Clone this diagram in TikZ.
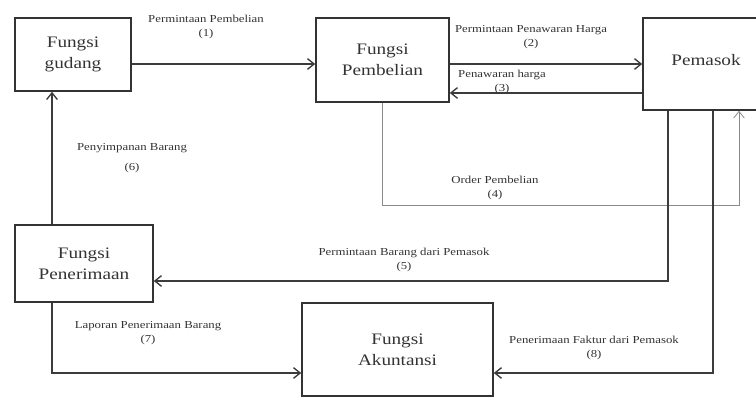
\documentclass[tikz,border=0pt]{standalone}
\usepackage{fontspec}
\setmainfont[FakeStretch=1.2]{Liberation Serif}
\usepackage{xcolor}
\usepackage{tikz}
\usetikzlibrary{arrows.meta, positioning}
\definecolor{tinta}{HTML}{333333}
\definecolor{garisgelap}{HTML}{3C3C3C}
\definecolor{abu}{HTML}{8A8A8A}
\tikzset{
  kotak/.style={rectangle, draw=tinta, line width=1.2pt, fill=white,
    text=tinta, font=\fontsize{12}{15.5}\selectfont, align=center, inner sep=0pt},
  panah/.style={-{Straight Barb[length=5pt, width=8pt]}, line width=1pt, color=garisgelap},
  panahtipis/.style={panah, line width=0.6pt, color=abu},
  keterangan/.style={font=\fontsize{8}{10.5}\selectfont, text=tinta, align=center, inner sep=0pt}
}

\begin{document}
\begin{tikzpicture}[x=0.75pt, y=-0.75pt]
    \useasboundingbox (0,0) rectangle (756,398);

    \node[kotak, minimum width=87pt, minimum height=54.75pt] (gudang) at (73,54.5) {Fungsi\\gudang};
    \node[kotak, minimum width=99.75pt, minimum height=63pt] (pembelian) at (382.5,60) {Fungsi\\Pembelian};
    \node[kotak, minimum width=94.5pt, minimum height=69pt] (pemasok) at (706,64) {\raisebox{6pt}{Pemasok}};
    \node[kotak, minimum width=103.5pt, minimum height=57.75pt] (penerimaan) at (84,263.5) {Fungsi\\Penerimaan};
    \node[kotak, minimum width=143.25pt, minimum height=69.75pt] (akuntansi) at (397.5,349.5) {Fungsi\\Akuntansi};

    % alur permintaan dan penawaran
    \draw[panah] (gudang.east |- 0,64) -- (pembelian.west |- 0,64);
    \draw[panah] (pembelian.east |- 0,64) -- (pemasok.west |- 0,64);
    \draw[panah] (pemasok.west |- 0,93) -- (pembelian.east |- 0,93);
    \draw[panahtipis] (pembelian.south) |- (739,205) -- (pemasok.south -| 739,0);

    % alur barang dan dokumen
    \draw[panah] (pemasok.south -| 668,0) |- (penerimaan.east |- 0,281);
    \draw[panah] (penerimaan.north -| 52,0) -- (gudang.south -| 52,0);
    \draw[panah] (penerimaan.south -| 52,0) |- (akuntansi.west |- 0,373);
    \draw[panah] (pemasok.south -| 713,0) |- (akuntansi.east |- 0,373);

    \node[keterangan] (k1) at (206,27) {Permintaan Pembelian\\(1)};
    \node[keterangan] (k2) at (531,37) {Permintaan Penawaran Harga\\(2)};
    \node[keterangan] (k3) at (502,82) {Penawaran harga\\(3)};
    \node[keterangan] (k4) at (495,188) {Order Pembelian\\(4)};
    \node[keterangan] (k5) at (404,260) {Permintaan Barang dari Pemasok\\(5)};
    \node[keterangan] (k6) at (132,158) {Penyimpanan Barang\\[5pt](6)};
    \node[keterangan] (k7) at (148,333) {Laporan Penerimaan Barang\\(7)};
    \node[keterangan] (k8) at (594,348) {Penerimaan Faktur dari Pemasok\\(8)};
  \end{tikzpicture}
\end{document}
